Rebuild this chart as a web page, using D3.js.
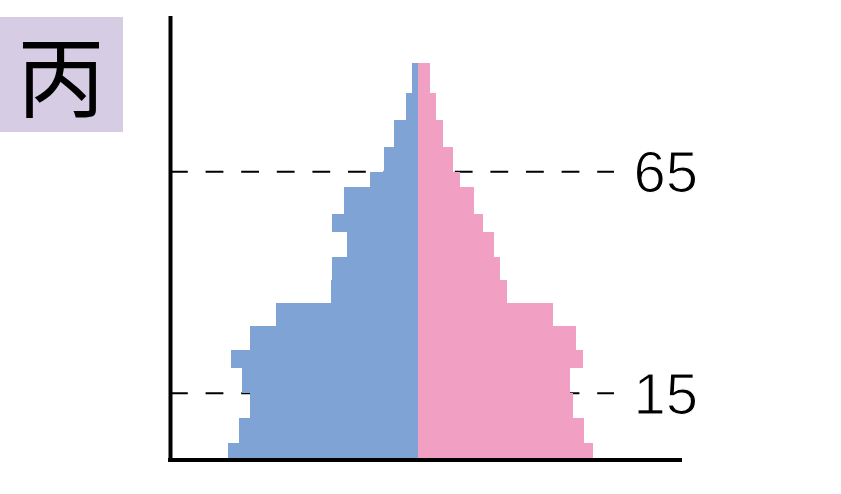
<!DOCTYPE html>
<html>
<head>
<meta charset="utf-8">
<script src="https://cdn.jsdelivr.net/npm/d3@7"></script>
<style>
	body { margin: 0; background: #fff; }
	svg { display: block; }
	.ageLabel { font-family: "Liberation Sans", Arial, sans-serif; font-size: 58px; fill: #000; stroke: #fff; stroke-width: 1.2px; }
	.title { font-family: "Noto Sans CJK JP", sans-serif; font-size: 88px; fill: #000; }
</style>
</head>
<body>
<div id="vizCont"></div>
<script>
// age band edges (years), bottom to top
var ageEdges = [0, 3.7, 9.4, 15, 20.8, 24.8, 30.1, 35.4, 40.6, 45.8, 51.3, 55.4, 61.6, 65, 70.6, 76.7, 82.8, 89.6];
// population per band (relative units), bottom to top
var male   = [190, 179, 168, 176, 187, 168, 142, 87, 86, 71, 86, 74, 48, 34, 24, 12, 6];
var female = [175, 166, 155, 152, 165, 158, 135, 89, 82, 76, 65, 56, 42, 35, 25, 18, 12];
var markAges = [15, 65];
var titleText = '丙';

var width = 841, height = 494;

var svg = d3.select('#vizCont').append('svg')
	.attr('width', width)
	.attr('height', height);

var x = d3.scaleLinear()
	.domain([-250, 265])
	.range([168, 683]);

var y = d3.scaleLinear()
	.domain([0, 100])
	.range([459.8, 16.6]);

var bands = male.map(function(m, i) {
	return { from: ageEdges[i], to: ageEdges[i + 1], male: m, female: female[i] };
});

// title box
svg.append('rect')
	.attr('x', 0)
	.attr('y', 17)
	.attr('width', 123)
	.attr('height', 115)
	.attr('fill', '#d6cce4');

svg.append('text')
	.attr('class', 'title')
	.attr('x', 61)
	.attr('y', 110)
	.attr('text-anchor', 'middle')
	.text(titleText);

// dashed reference lines (behind bars)
svg.selectAll('line.ref')
	.data(markAges)
	.enter()
	.append('line')
	.attr('class', 'ref')
	.attr('x1', x(-250) + 2)
	.attr('x2', 614)
	.attr('y1', d => y(d))
	.attr('y2', d => y(d))
	.attr('stroke', '#000')
	.attr('stroke-width', 2)
	.attr('stroke-dasharray', '17.8,17.8');

// male bars
svg.selectAll('rect.male')
	.data(bands)
	.enter()
	.append('rect')
	.attr('class', 'male')
	.attr('x', d => x(-d.male))
	.attr('width', d => x(0) - x(-d.male))
	.attr('y', d => y(d.to))
	.attr('height', d => y(d.from) - y(d.to))
	.attr('fill', '#7fa3d5')
	.attr('shape-rendering', 'crispEdges');

// female bars
svg.selectAll('rect.female')
	.data(bands)
	.enter()
	.append('rect')
	.attr('class', 'female')
	.attr('x', x(0))
	.attr('width', d => x(d.female) - x(0))
	.attr('y', d => y(d.to))
	.attr('height', d => y(d.from) - y(d.to))
	.attr('fill', '#f29fc4')
	.attr('shape-rendering', 'crispEdges');

// axes
svg.append('line')
	.attr('x1', 170.5)
	.attr('x2', 170.5)
	.attr('y1', 16)
	.attr('y2', 462)
	.attr('stroke', '#000')
	.attr('stroke-width', 4);

svg.append('line')
	.attr('x1', 168)
	.attr('x2', 682)
	.attr('y1', 460)
	.attr('y2', 460)
	.attr('stroke', '#000')
	.attr('stroke-width', 4);

// age labels
svg.selectAll('text.ageLabel')
	.data(markAges)
	.enter()
	.append('text')
	.attr('class', 'ageLabel')
	.attr('x', 698)
	.attr('y', d => y(d) + 20.5)
	.attr('text-anchor', 'end')
	.text(d => d);
</script>
</body>
</html>
